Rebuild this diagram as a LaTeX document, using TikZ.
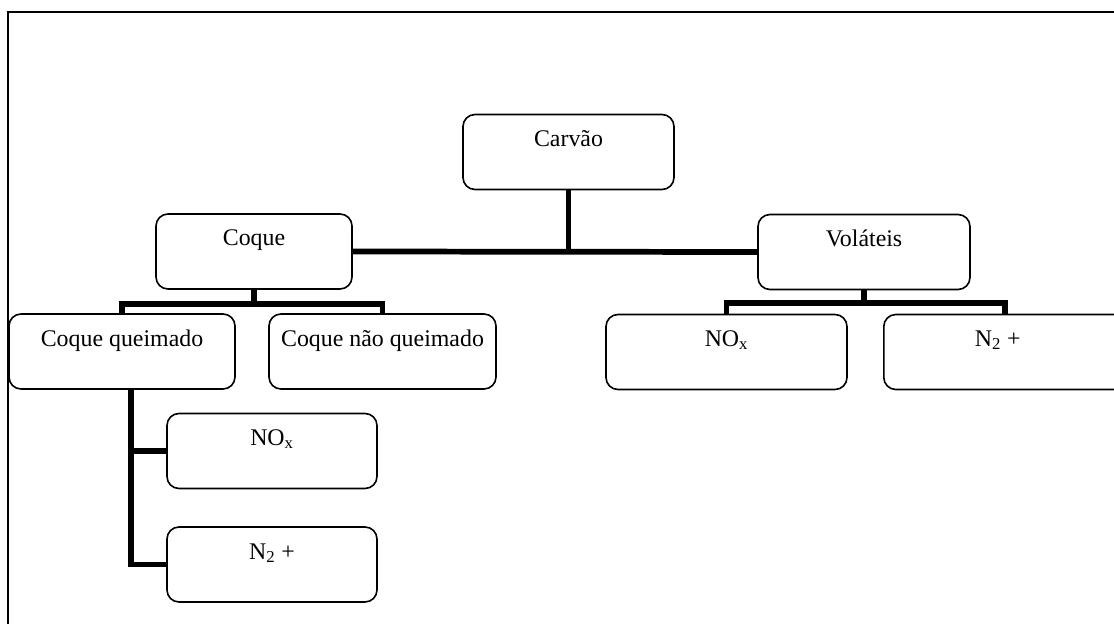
\documentclass[tikz,border=0pt]{standalone}
\usepackage{fontspec}
\setmainfont{Liberation Serif}
\usetikzlibrary{calc,positioning}

\begin{document}
\begin{tikzpicture} [x=0.75pt,y=-0.75pt,{box/.style={rectangle,draw=black,line width=1.2pt,rounded corners=9pt,inner sep=0pt,text height=24pt,text depth=32.25pt,font=\fontsize{17.9}{20}\selectfont}},{conn/.style={color=black,line width=4.3pt}}]
	\useasboundingbox (0,0) rectangle (1114,624);
	%%frame
	\draw [line width=1.5pt] (8,630) -- (8,12) -- (1120,12);
	%%top level
	\node [box,minimum width=211*0.75pt] (carvao) at (568.5,152) {Carvão};
	\node [box,minimum width=196*0.75pt] (coque) at (254,251.5) {Coque};
	\node [box,minimum width=212*0.75pt] (volateis) at (864,252) {Voláteis};
	%%coque
	\node [box,minimum width=226*0.75pt] (queimado) at (122,351.5) {Coque queimado};
	\node [box,minimum width=227*0.75pt] (naoqueimado) at (382.5,351.5) {Coque não queimado};
	\node [box,minimum width=210*0.75pt] (noxq) at (272,451) {NO\textsubscript{x}};
	\node [box,minimum width=210*0.75pt] (ndoisq) at (272,564.5) {N\textsubscript{2} +};
	%%volateis
	\node [box,minimum width=241*0.75pt] (noxv) at (726.5,352) {NO\textsubscript{x}};
	\node [box,minimum width=280*0.75pt,anchor=west] (ndoisv) at (883,352) {\hspace*{-39pt}N\textsubscript{2} +};
	%%connectors
	\draw [conn] (carvao.south) -- (carvao.south |- coque.east);
	\draw [conn] (coque.east) -- (volateis.west);
	\draw [conn] (coque.south) -- ++(0,14) coordinate (cbus);
	\draw [conn] (queimado.north) |- (cbus) -| (naoqueimado.north);
	\draw [conn] (volateis.south) -- ++(0,13) coordinate (vbus);
	\draw [conn] (noxv.north) |- (vbus) -| ($(ndoisv.north west)+(122,0)$);
	\coordinate (qs) at ($(queimado.south)+(9,0)$);
	\draw [conn] (qs) |- (ndoisq.west);
	\draw [conn] (noxq.west) -- (noxq.west -| qs);
\end{tikzpicture}
\end{document}
